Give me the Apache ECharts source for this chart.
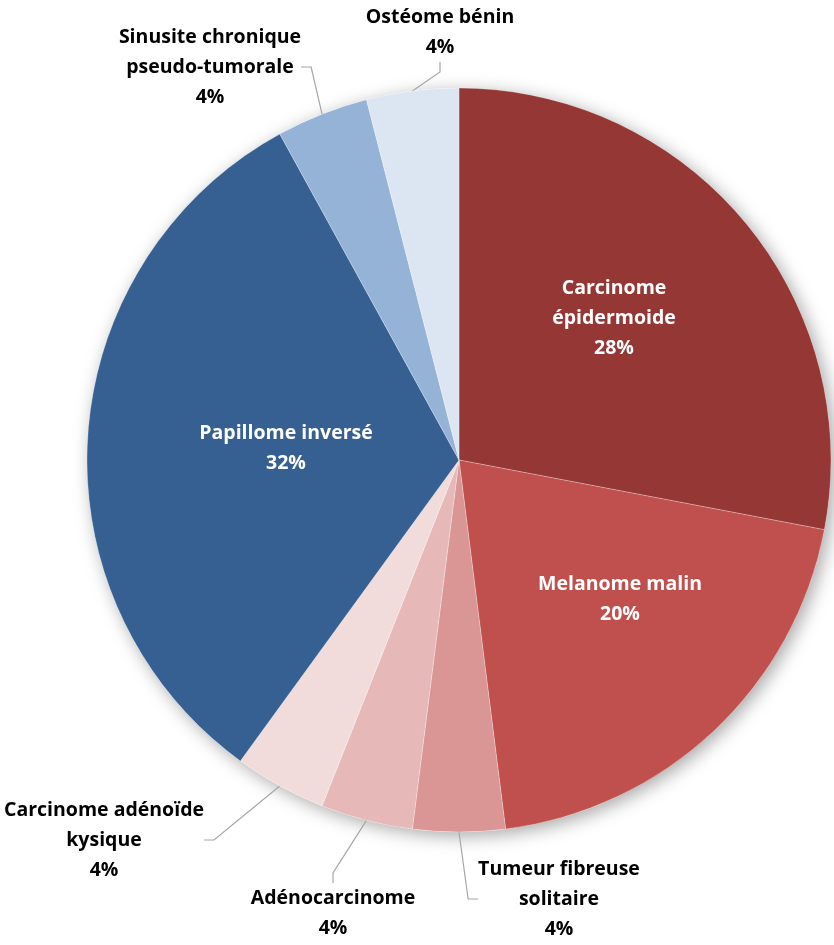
<!DOCTYPE html>
<html><head><meta charset="utf-8">
<script src="https://cdn.jsdelivr.net/npm/echarts@6/dist/echarts.min.js"></script>
<style>html,body{margin:0;padding:0;background:#fff}#c{width:834px;height:945px}</style>
</head><body><div id="c"></div>
<script>
const categories = ['Carcinome\népidermoide','Melanome malin','Tumeur fibreuse\nsolitaire','Adénocarcinome','Carcinome adénoïde\nkysique','Papillome inversé','Sinusite chronique\npseudo-tumorale','Ostéome bénin'];
const values = [28, 20, 4, 4, 4, 32, 4, 4];
const colors = ['#953735','#C0504D','#D99694','#E6B9B8','#F2DCDB','#376092','#95B3D7','#DCE6F2'];
const insideLabel = [true, true, false, false, false, true, false, false];
// label anchor positions (label placement only)
const labelPos = [[614,318],[620,599],[559,899],[333,913],[104,840],[286,448],[210,67],[440,32]];

const chart = echarts.init(document.getElementById('c'));
const data = categories.map((n,i)=>({
  name:n, value:values[i],
  itemStyle:{color:colors[i]},
  label:{color: insideLabel[i] ? '#fff' : '#000'},
  labelLine:{show: !insideLabel[i]}
}));
chart.setOption({
  animation:false,
  series:[
    {type:'pie', silent:true, center:[459,460], radius:372, data:[{value:1}],
     itemStyle:{color:'#fff', shadowBlur:18, shadowColor:'rgba(0,0,0,0.35)', shadowOffsetX:4, shadowOffsetY:4},
     label:{show:false}, labelLine:{show:false}, z:1},
    {type:'pie', center:[459,460], radius:372, startAngle:90, clockwise:true,
     data:data, z:2,
     itemStyle:{borderColor:'rgba(255,255,255,0.5)', borderWidth:0.5},
     label:{show:true, position:'outside', formatter:p=>p.name+'\n'+p.value+'%', overflow:'none',
       fontFamily:'Open Sans', fontWeight:'bold', fontSize:19.5, lineHeight:30, align:'center'},
     labelLine:{show:true, length:20, length2:10, lineStyle:{color:'#A6A6A6', width:1.2}},
     labelLayout:function(p){
       const i=p.dataIndex; const pos=labelPos[i];
       return {x:pos[0], y:pos[1], align:'center', verticalAlign:'middle', hideOverlap:false, moveOverlap:null};
     }
    }
  ]
});
</script></body></html>
